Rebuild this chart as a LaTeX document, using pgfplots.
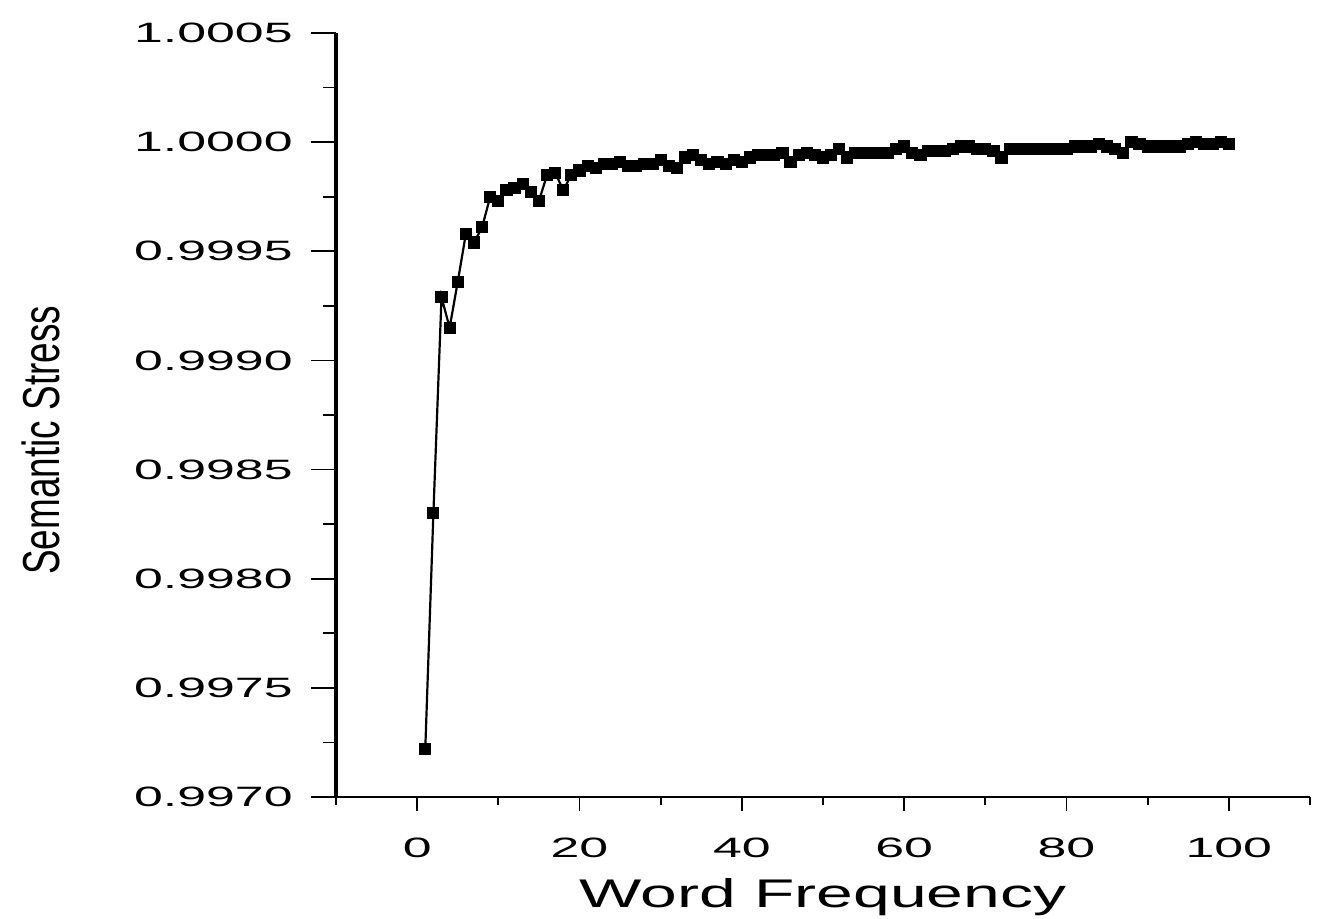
\documentclass[border=0pt]{standalone}
\usepackage{graphicx}
\usepackage{fontspec}
\setmainfont{Liberation Sans}
\usepackage{pgfplots}
\pgfplotsset{compat=1.18}
\newcommand{\tl}[1]{\scalebox{1.85}[1]{#1}}
\begin{document}
\begin{tikzpicture}
\useasboundingbox (-168pt,-60.5pt) rectangle (495pt,398.5pt);
\begin{axis}[
  at={(0,0)}, anchor=south west,
  scale only axis, width=487pt, height=382pt,
  xmin=-10, xmax=110, ymin=0.9970, ymax=1.0005,
  axis lines=left,
  axis line style={-},
  x axis line style={-, line width=1.3pt},
  y axis line style={-, line width=2pt},
  tick align=outside,
  tick style={black, line width=0.9pt},
  xtick style={/pgfplots/major tick length=7pt, /pgfplots/minor tick length=4pt},
  ytick style={/pgfplots/major tick length=12.5pt, /pgfplots/minor tick length=6.5pt},
  major tick length=12.5pt, minor tick length=6.5pt,
  xtick={0,20,40,60,80,100},
  xticklabels={\tl{0},\tl{20},\tl{40},\tl{60},\tl{80},\tl{100}},
  minor xtick={-10,10,30,50,70,90,110},
  ytick={0.9970,0.9975,0.9980,0.9985,0.9990,0.9995,1.0000,1.0005},
  yticklabels={\tl{0.9970},\tl{0.9975},\tl{0.9980},\tl{0.9985},\tl{0.9990},\tl{0.9995},\tl{1.0000},\tl{1.0005}},
  minor ytick={0.99725,0.99775,0.99825,0.99875,0.99925,0.99975,1.00025},
  tick label style={font=\fontsize{14pt}{14pt}\selectfont, inner sep=0pt},
  yticklabel style={xshift=-9pt},
  xticklabel style={yshift=-8pt},
  xlabel={\scalebox{1.65}[1]{Word Frequency}},
  xlabel style={font=\fontsize{20pt}{20pt}\selectfont, at={(axis description cs:0.5,-0.144)}, anchor=base, inner sep=0pt},
  ylabel={\scalebox{0.71}[1]{Semantic Stress}},
  ylabel style={font=\fontsize{26pt}{26pt}\selectfont, at={(axis description cs:-0.2834,0.467)}, anchor=base, inner sep=0pt},
  clip=false,
]
\addplot[black, line width=1.1pt, mark=square*, mark size=2.5pt] coordinates {
(1,0.99722)(2,0.99830)(3,0.99929)(4,0.99915)(5,0.99936)(6,0.99958)(7,0.99954)(8,0.99961)(9,0.99975)(10,0.99973)
(11,0.99978)(12,0.99979)(13,0.99981)(14,0.99977)(15,0.99973)(16,0.99985)(17,0.99986)(18,0.99978)(19,0.99985)(20,0.99987)
(21,0.99989)(22,0.99988)(23,0.99990)(24,0.99990)(25,0.99991)(26,0.99989)(27,0.99989)(28,0.99990)(29,0.99990)(30,0.99992)
(31,0.99989)(32,0.99988)(33,0.99993)(34,0.99994)(35,0.99992)(36,0.99990)(37,0.99991)(38,0.99990)(39,0.99992)(40,0.99991)
(41,0.99993)(42,0.99994)(43,0.99994)(44,0.99994)(45,0.99995)(46,0.99991)(47,0.99994)(48,0.99995)(49,0.99994)(50,0.99993)
(51,0.99994)(52,0.99997)(53,0.99993)(54,0.99995)(55,0.99995)(56,0.99995)(57,0.99995)(58,0.99995)(59,0.99997)(60,0.99998)
(61,0.99995)(62,0.99994)(63,0.99996)(64,0.99996)(65,0.99996)(66,0.99997)(67,0.99998)(68,0.99998)(69,0.99997)(70,0.99997)
(71,0.99996)(72,0.99993)(73,0.99997)(74,0.99997)(75,0.99997)(76,0.99997)(77,0.99997)(78,0.99997)(79,0.99997)(80,0.99997)
(81,0.99998)(82,0.99998)(83,0.99998)(84,0.99999)(85,0.99998)(86,0.99997)(87,0.99995)(88,1.00000)(89,0.99999)(90,0.99998)
(91,0.99998)(92,0.99998)(93,0.99998)(94,0.99998)(95,0.99999)(96,1.00000)(97,0.99999)(98,0.99999)(99,1.00000)(100,0.99999)
};
\end{axis}
\end{tikzpicture}
\end{document}
